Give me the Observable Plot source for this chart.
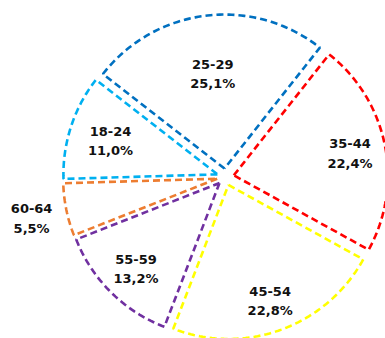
<!DOCTYPE html>
<html>
<head>
<meta charset="utf-8">
<script src="https://cdn.jsdelivr.net/npm/d3@7"></script>
<script src="https://cdn.jsdelivr.net/npm/@observablehq/plot@0.6"></script>
<style>
  html, body { margin: 0; padding: 0; background: #fff; }
  #chart svg { display: block; }
</style>
</head>
<body>
<div id="chart"></div>
<script>
// Data (clockwise order)
const categories = ["18-24", "25-29", "35-44", "45-54", "55-59", "60-64"];
const shares = [11.0, 25.1, 22.4, 22.8, 13.2, 5.5];
const colors = ["#00B0F0", "#0070C0", "#FF0000", "#FFFF00", "#7030A0", "#ED7D31"];

// Layout (not data)
const W = 385, H = 338;
const cx = 225, cy = 176.5, R = 154, explode = 8.5;
const startDeg = -91.7;
const labelRadius = {"18-24": 0.73, "25-29": 0.63, "35-44": 0.77, "45-54": 0.79, "55-59": 0.77, "60-64": 1.23};

const rows = categories.map((c, i) => ({cat: c, value: shares[i], color: colors[i]}));
const arcs = d3.pie().sort(null).value(d => d.value)
  .startAngle(startDeg * Math.PI / 180)
  .endAngle(startDeg * Math.PI / 180 + 2 * Math.PI)(rows);

const pts = [];
const labels = [];
for (const a of arcs) {
  const mid = (a.startAngle + a.endAngle) / 2;
  const vx = cx + explode * Math.sin(mid), vy = cy - explode * Math.cos(mid);
  const n = Math.max(8, Math.ceil((a.endAngle - a.startAngle) / 0.02));
  pts.push({cat: a.data.cat, x: vx, y: vy});
  for (let k = 0; k <= n; k++) {
    const t = a.startAngle + (a.endAngle - a.startAngle) * k / n;
    pts.push({cat: a.data.cat, x: vx + R * Math.sin(t), y: vy - R * Math.cos(t)});
  }
  pts.push({cat: a.data.cat, x: vx, y: vy});
  const lr = labelRadius[a.data.cat] * R;
  labels.push({
    cat: a.data.cat,
    x: vx + lr * Math.sin(mid),
    y: vy - lr * Math.cos(mid),
    text: a.data.cat + "\n" + a.data.value.toFixed(1).replace(".", ",") + "%"
  });
}

const chart = Plot.plot({
  width: W, height: H,
  margin: 0,
  x: {domain: [0, W], range: [0, W], axis: null},
  y: {domain: [0, H], range: [0, H], axis: null},
  color: {domain: categories, range: colors},
  style: {background: "#fff"},
  marks: [
    Plot.line(pts, {
      x: "x", y: "y", z: "cat", stroke: "cat",
      strokeWidth: 2.6, strokeDasharray: "7,4",
      strokeLinejoin: "miter", strokeLinecap: "butt"
    }),
    Plot.text(labels, {
      x: "x", y: "y", text: "text",
      fontSize: 13, fontWeight: "bold", fontFamily: "DejaVu Sans",
      lineHeight: 1.5, fill: "#111"
    })
  ]
});
document.getElementById("chart").appendChild(chart);
</script>
</body>
</html>
